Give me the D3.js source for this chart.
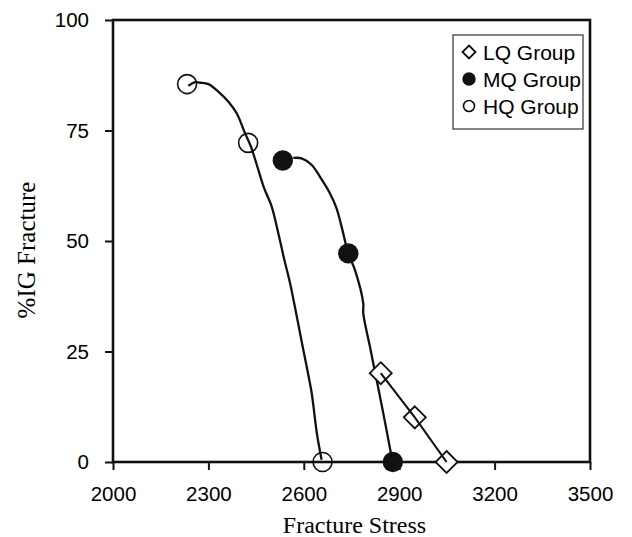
<!DOCTYPE html>
<html>
<head>
<meta charset="utf-8">
<script src="https://cdn.jsdelivr.net/npm/d3@7"></script>
<style>
  html, body { margin: 0; padding: 0; background: #fff; }
  svg { display: block; }
</style>
</head>
<body>
<svg id="chart" width="632" height="537"></svg>
<script>
// ---- data ----
const xTicks = [2000, 2300, 2600, 2900, 3200, 3500];
const yTicks = [0, 25, 50, 75, 100];
const groups = ["LQ Group", "MQ Group", "HQ Group"];

const lqPoints = [[2842, 20.1], [2949, 10.1], [3049, 0]];
const mqPoints = [[2534, 68.2], [2740, 47.2], [2880, 0]];
const hqPoints = [[2233, 85.5], [2425, 72.2], [2659, 0]];

// hand-drawn trend curves
const hqCurve = [[2237, 85.1], [2256, 85.9], [2274, 85.8], [2300, 85.5], [2331, 83.8], [2363, 81.5],
  [2389, 78.9], [2415, 74.4], [2434, 71.3], [2457, 66.1], [2475, 62.0], [2499, 57.8], [2520, 51.7],
  [2538, 46.0], [2557, 40.4], [2578, 32.9], [2594, 27.0], [2609, 21.6], [2625, 15.5], [2641, 6.5],
  [2656, 0.5]];
const mqCurve = [[2567, 68.8], [2593, 68.7], [2625, 67.2], [2651, 64.5], [2682, 60.8], [2703, 57.4],
  [2719, 53.2], [2740, 47.2], [2761, 43.4], [2787, 35.9], [2787, 33.6], [2808, 26.1], [2829, 18.6],
  [2850, 11.0], [2876, 1.2], [2879, 0]];
const lqCurve = lqPoints;

// ---- layout ----
const svg = d3.select("#chart");
const pLeft = 113, pRight = 590, pTop = 20, pBottom = 462;
const x = d3.scaleLinear().domain([2000, 3500]).range([pLeft, pRight]);
const y = d3.scaleLinear().domain([0, 100]).range([pBottom, pTop]);

const sans = "Arial, 'Liberation Sans', Helvetica, sans-serif";
const serif = "'Times New Roman', 'Liberation Serif', Times, serif";

// axes
const xAxis = d3.axisBottom(x).tickValues(xTicks).tickSize(8).tickPadding(16).tickFormat(d3.format("d"));
const yAxis = d3.axisLeft(y).tickValues(yTicks).tickSize(8).tickPadding(16).tickFormat(d3.format("d"));

const gx = svg.append("g").attr("transform", `translate(0,${pBottom})`).call(xAxis);
const gy = svg.append("g").attr("transform", `translate(${pLeft},0)`).call(yAxis);
[gx, gy].forEach(g => {
  g.select(".domain").remove();
  g.selectAll(".tick line").attr("stroke", "#111").attr("stroke-width", 2);
  g.selectAll(".tick text").attr("fill", "#000").style("font-family", sans).style("font-size", "20.5px");
});

// frame
svg.append("rect")
  .attr("x", pLeft).attr("y", pTop)
  .attr("width", pRight - pLeft).attr("height", pBottom - pTop)
  .attr("fill", "none").attr("stroke", "#111").attr("stroke-width", 2.6);

// axis titles
svg.append("text")
  .attr("x", (pLeft + pRight) / 2 + 3).attr("y", 533)
  .attr("text-anchor", "middle")
  .style("font-family", serif).style("font-size", "24px")
  .text("Fracture Stress");
svg.append("text")
  .attr("transform", `translate(35,250) rotate(-90)`)
  .attr("text-anchor", "middle")
  .style("font-family", serif).style("font-size", "25px")
  .text("%IG Fracture");

// curves
const line = d3.line().x(d => x(d[0])).y(d => y(d[1])).curve(d3.curveCatmullRom.alpha(0.5));
const straight = d3.line().x(d => x(d[0])).y(d => y(d[1]));
const plot = svg.append("g");
[hqCurve, mqCurve].forEach(c => {
  plot.append("path").attr("d", line(c)).attr("fill", "none")
    .attr("stroke", "#111").attr("stroke-width", 2.3).attr("stroke-linejoin", "round");
});

// markers
function drawDiamond(g, cx, cy, half, sw) {
  g.append("path")
    .attr("d", `M${cx},${cy - half}L${cx + half},${cy}L${cx},${cy + half}L${cx - half},${cy}Z`)
    .attr("fill", "#fff").attr("stroke", "#111").attr("stroke-width", sw);
}
lqPoints.forEach(d => drawDiamond(plot, x(d[0]), y(d[1]), 11, 1.8));
plot.append("path").attr("d", straight(lqCurve))
  .attr("fill", "none").attr("stroke", "#111").attr("stroke-width", 2.1);

plot.selectAll("circle.mq").data(mqPoints).join("circle").attr("class", "mq")
  .attr("cx", d => x(d[0])).attr("cy", d => y(d[1])).attr("r", 10.2).attr("fill", "#111");
plot.selectAll("circle.hq").data(hqPoints).join("circle").attr("class", "hq")
  .attr("cx", d => x(d[0])).attr("cy", d => y(d[1])).attr("r", 9.5)
  .attr("fill", "none").attr("stroke", "#111").attr("stroke-width", 1.6);

// legend
const lg = svg.append("g");
lg.append("rect").attr("x", 453).attr("y", 35).attr("width", 130).attr("height", 94)
  .attr("fill", "#fff").attr("stroke", "#333").attr("stroke-width", 1.2);
const rowY = [52, 79, 106];
groups.forEach((name, i) => {
  const cy = rowY[i], cx = 469;
  if (i === 0) drawDiamond(lg, cx, cy, 6.5, 1.8);
  else if (i === 1) lg.append("circle").attr("cx", cx).attr("cy", cy).attr("r", 6.7).attr("fill", "#111");
  else lg.append("circle").attr("cx", cx).attr("cy", cy).attr("r", 5.5).attr("fill", "none")
    .attr("stroke", "#111").attr("stroke-width", 1.6);
  lg.append("text").attr("x", 483).attr("y", cy).attr("dy", "0.36em")
    .style("font-family", sans).style("font-size", "21px").text(name);
});
</script>
</body>
</html>
